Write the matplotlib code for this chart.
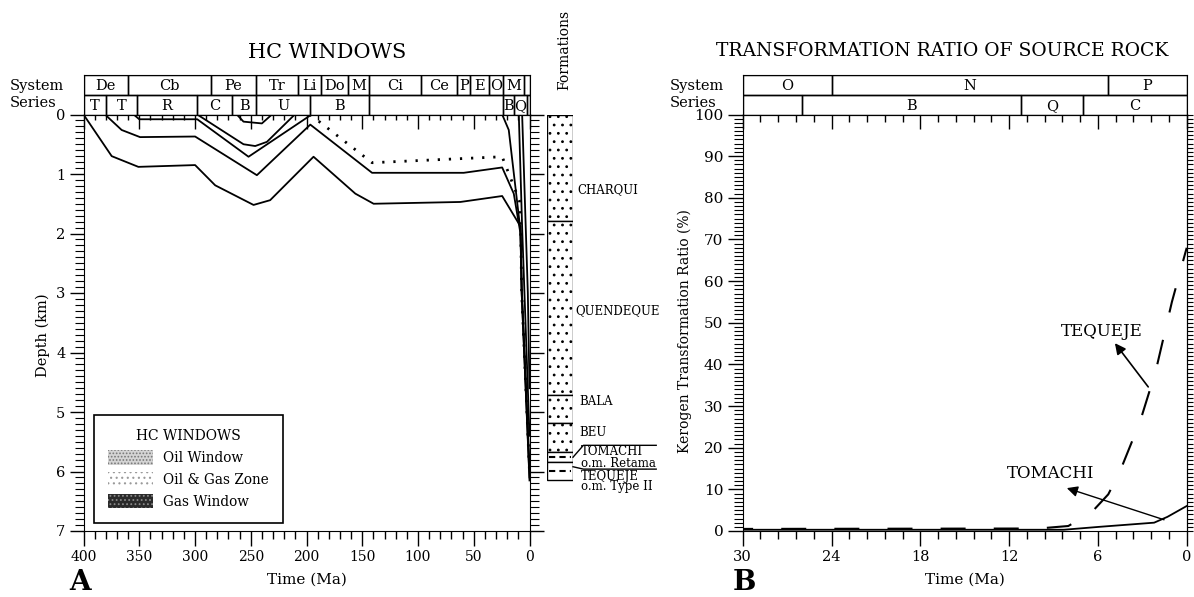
import matplotlib
matplotlib.use("Agg")
import matplotlib.pyplot as plt
from matplotlib.patches import Rectangle, Patch
from matplotlib.ticker import MultipleLocator

plt.rcParams['font.family'] = 'DejaVu Serif'
plt.rcParams['hatch.linewidth'] = 0.8

# ---------------- panel A : HC windows ----------------
system_a = [(400, 360, 'De'), (360, 286, 'Cb'), (286, 245, 'Pe'), (245, 208, 'Tr'), (208, 187, 'Li'),
            (187, 163, 'Do'), (163, 144, 'M'), (144, 97, 'Ci'), (97, 65, 'Ce'), (65, 53, 'P'),
            (53, 36, 'E'), (36, 24, 'O'), (24, 5, 'M'), (5, 0, '')]
series_a = [(400, 380, 'T'), (380, 352, 'T'), (352, 298, 'R'), (298, 267, 'C'), (267, 245, 'B'),
            (245, 197, 'U'), (197, 144, 'B'), (144, 24, ''), (24, 14, 'B'), (14, 2, 'Q'), (2, 0, '')]

# burial curves (time Ma, depth km)
c1_t = [400, 374.7, 350.8, 299.9, 281.9, 247.5, 232.6, 193.7, 156.2, 139.8, 62, 24.5, 8.1, 7.0, 0]
c1_d = [0, 0.70, 0.88, 0.85, 1.19, 1.52, 1.44, 0.71, 1.33, 1.50, 1.47, 1.37, 1.88, 3.0, 6.15]
c2_t = [380.7, 365.8, 349.3, 299.9, 244.5, 196.6, 141.2, 59, 24.5, 14.1, 8.1, 7.0, 0]
c2_d = [0, 0.26, 0.38, 0.37, 1.02, 0.17, 0.98, 0.98, 0.89, 1.33, 2.0, 3.0, 6.1]
c3_t = [355, 350, 298, 252, 197]
c3_d = [0, 0.08, 0.08, 0.71, 0.02]
c4_t = [298, 256.5, 246, 235.5, 211.6]
c4_d = [0, 0.50, 0.53, 0.46, 0.02]
c5_t = [262.5, 256.5, 240, 231]
c5_d = [0, 0.12, 0.15, 0]
dot_t = [197, 192, 141.2, 24.5, 9.0, 7.8, 7.0, 0]
dot_d = [0, 0.07, 0.81, 0.71, 1.45, 2.05, 3.0, 6.0]
y1_t = [24.5, 18.6, 8.1, 7.0, 0]
y1_d = [0, 0.26, 1.95, 2.9, 5.9]
y2_t = [9.6, 6.6, 0]
y2_d = [0, 1.9, 5.4]
y3_t = [6.6, 1.5, 0]
y3_d = [0, 3.0, 4.6]

formations = ['CHARQUI', 'QUENDEQUE', 'BALA', 'BEU', 'TOMACHI', 'TEQUEJE']
form_top = [0, 1.79, 4.71, 5.18, 5.67, 5.84]
form_base = [1.79, 4.71, 5.18, 5.67, 5.84, 6.15]
form_lith = ['sand', 'sand', 'sand', 'sand', 'shale', 'shale']

legend_labels = ['Oil Window', 'Oil & Gas Zone', 'Gas Window']

# ---------------- panel B : transformation ratio ----------------
system_b = [(30, 24, 'O'), (24, 5.3, 'N'), (5.3, 0, 'P')]
series_b = [(30, 26, ''), (26, 11.2, 'B'), (11.2, 7, 'Q'), (7, 0, 'C')]
tomachi_t = [30, 8.3, 5.9, 2.2, 1.3, 0]
tomachi_r = [0.3, 0.3, 1.0, 2.0, 3.4, 6.0]
tequeje_t = [30, 10, 8, 6.45, 5.3, 4.5, 3.15, 2.1, 1.0, 0]
tequeje_r = [0.5, 0.6, 1.2, 4.4, 8.8, 14.4, 26.3, 38.3, 55, 68]

W, H = 1194, 597
fig = plt.figure(figsize=(W / 100, H / 100), dpi=100)

ax_bot = (H - 531) / H
ax_h = (531 - 114.5) / H
hd_h = 39 / H


def draw_header(hax, rows, xlim):
    hax.set_xlim(*xlim)
    hax.set_ylim(0, 2)
    hax.set_xticks([])
    hax.set_yticks([])
    for level, row in zip((1, 0), rows):
        for start, end, name in row:
            hax.add_patch(Rectangle((end, level), start - end, 1, fill=False, lw=1.0, ec='black'))
            if name:
                hax.text((start + end) / 2, level + 0.45, name, ha='center', va='center', fontsize=10.5)
    hax.text(-0.165, 0.72, 'System', transform=hax.transAxes, ha='left', va='center', fontsize=10.5)
    hax.text(-0.165, 0.30, 'Series', transform=hax.transAxes, ha='left', va='center', fontsize=10.5)


# ---- A ----
axA = fig.add_axes([83.5 / W, ax_bot, 446 / W, ax_h])
hA = fig.add_axes([83.5 / W, ax_bot + ax_h, 446 / W, hd_h])
draw_header(hA, [system_a, series_a], (400, 0))

for t, d in [(c1_t, c1_d), (c2_t, c2_d), (c3_t, c3_d), (c4_t, c4_d), (c5_t, c5_d),
             (y1_t, y1_d), (y2_t, y2_d), (y3_t, y3_d)]:
    axA.plot(t, d, color='black', lw=1.3)
axA.plot(dot_t, dot_d, color='black', lw=2.0, linestyle=(0, (0.8, 3.2)))

axA.set_xlim(400, 0)
axA.set_ylim(7, 0)
axA.xaxis.set_major_locator(MultipleLocator(50))
axA.xaxis.set_minor_locator(MultipleLocator(10))
axA.yaxis.set_major_locator(MultipleLocator(1))
axA.yaxis.set_minor_locator(MultipleLocator(0.1))
axA.tick_params(axis='x', which='major', direction='out', length=11, width=1, labelsize=10, pad=3)
axA.tick_params(axis='x', which='minor', direction='out', length=6, width=1)
axA.tick_params(axis='y', which='major', direction='out', length=10, width=1, labelsize=10.5, pad=3,
                right=True)
axA.tick_params(axis='y', which='minor', direction='out', length=6.5, width=0.8, right=True)
secA = axA.secondary_xaxis('top')
secA.xaxis.set_major_locator(MultipleLocator(50))
secA.xaxis.set_minor_locator(MultipleLocator(10))
secA.tick_params(which='major', direction='in', length=11, width=1, labeltop=False)
secA.tick_params(which='minor', direction='in', length=4, width=1)
axA.set_ylabel('Depth (km)', fontsize=10.5)
axA.yaxis.set_label_coords(-0.076, 0.47)
axA.set_xlabel('Time (Ma)', fontsize=11)
axA.xaxis.set_label_coords(0.5, -0.10)

handles = [Patch(facecolor='#d4d4d4', edgecolor='#777777', hatch='.....', lw=0),
           Patch(facecolor='white', edgecolor='#9a9a9a', hatch='...', lw=0),
           Patch(facecolor='#2a2a2a', edgecolor='#8a8a8a', hatch='....', lw=0)]
leg = axA.legend(handles, legend_labels, title='HC WINDOWS', loc='lower left',
                 bbox_to_anchor=(0.0229, 0.0195), borderaxespad=0, fontsize=9.8,
                 title_fontsize=10, handlelength=3.3, handleheight=1.3, handletextpad=0.75,
                 labelspacing=0.5, borderpad=1.05, fancybox=False, edgecolor='black',
                 framealpha=1)
leg.get_frame().set_linewidth(1.2)

# formations column
fax = fig.add_axes([547 / W, ax_bot, 26 / W, ax_h])
fax.set_xlim(0, 1)
fax.set_ylim(7, 0)
fax.axis('off')
for name, top, base, lith in zip(formations, form_top, form_base, form_lith):
    fax.add_patch(Rectangle((0, top), 1, base - top, facecolor='white', edgecolor='black',
                            hatch='..' if lith == 'sand' else None, lw=1))
    if lith == 'shale':
        fax.plot([0.08, 0.92], [(top + base) / 2] * 2, color='black', lw=1.5,
                 linestyle=(0, (3, 2)))
label_depth = [1.27, 3.29, 4.83, 5.35, 5.67, 6.08]
label_x = [1.15, 1.08, 1.25, 1.25, 1.3, 1.3]
for name, y, x in zip(formations, label_depth, label_x):
    fax.text(x, y, name, ha='left', va='center', fontsize=8.5, clip_on=False)
fax.text(1.3, 5.86, 'o.m. Retama', ha='left', va='center', fontsize=8.5, clip_on=False)
fax.text(1.3, 6.26, 'o.m. Type II', ha='left', va='center', fontsize=8.5, clip_on=False)
fax.plot([1.0, 1.4, 4.2], [5.76, 5.56, 5.56], color='black', lw=1, clip_on=False)
fax.plot([1.0, 1.4, 4.2], [5.92, 5.96, 5.96], color='black', lw=1, clip_on=False)
fig.text(564 / W, 1 - 50 / H, 'Formations', rotation=90, ha='center', va='center', fontsize=10)

fig.text(327 / W, 1 - 53 / H, 'HC WINDOWS', ha='center', va='center', fontsize=15)
fig.text(69 / W, 0.002, 'A', ha='left', va='bottom', fontsize=20, fontweight='bold')

# ---- B ----
axB = fig.add_axes([742.7 / W, ax_bot, 444 / W, ax_h])
hB = fig.add_axes([742.7 / W, ax_bot + ax_h, 444 / W, hd_h])
draw_header(hB, [system_b, series_b], (30, 0))

axB.plot(tomachi_t, tomachi_r, color='black', lw=1.3)
axB.plot(tequeje_t, tequeje_r, color='black', lw=1.5, linestyle=(7, (12, 13.5)))
axB.set_xlim(30, 0)
axB.set_ylim(0, 100)
axB.xaxis.set_major_locator(MultipleLocator(6))
axB.xaxis.set_minor_locator(MultipleLocator(1.2))
axB.yaxis.set_major_locator(MultipleLocator(10))
axB.yaxis.set_minor_locator(MultipleLocator(1))
axB.tick_params(axis='x', which='major', direction='out', length=11, width=1, labelsize=10.5, pad=3)
axB.tick_params(axis='x', which='minor', direction='out', length=6, width=1)
axB.tick_params(axis='y', which='major', direction='out', length=11, width=1, labelsize=11, pad=3)
axB.tick_params(axis='y', which='minor', direction='out', length=6.5, width=0.8)
secB = axB.secondary_xaxis('top')
secB.xaxis.set_major_locator(MultipleLocator(6))
secB.xaxis.set_minor_locator(MultipleLocator(1.2))
secB.tick_params(which='major', direction='in', length=11, width=1, labeltop=False)
secB.tick_params(which='minor', direction='in', length=6, width=1)
secR = axB.secondary_yaxis('right')
secR.yaxis.set_major_locator(MultipleLocator(10))
secR.yaxis.set_minor_locator(MultipleLocator(1))
secR.tick_params(which='both', direction='out', length=4.5, width=0.8, labelright=False)
axB.set_ylabel('Kerogen Transformation Ratio (%)', fontsize=10)
axB.yaxis.set_label_coords(-0.114, 0.48)
axB.set_xlabel('Time (Ma)', fontsize=11)
axB.xaxis.set_label_coords(0.5, -0.10)

axB.text(5.72, 48, 'TEQUEJE', ha='center', va='center', fontsize=12)
axB.annotate('', xy=(4.85, 45.1), xytext=(2.6, 34.6),
             arrowprops=dict(arrowstyle='-|>', color='black', lw=1.2, mutation_scale=16,
                             shrinkA=0, shrinkB=0))
axB.text(9.17, 13.7, 'TOMACHI', ha='center', va='center', fontsize=12)
axB.annotate('', xy=(8.1, 10.3), xytext=(1.53, 2.7),
             arrowprops=dict(arrowstyle='-|>', color='black', lw=1.0, mutation_scale=16,
                             shrinkA=0, shrinkB=0))

fig.text(942 / W, 1 - 51 / H, 'TRANSFORMATION RATIO OF SOURCE ROCK', ha='center', va='center',
         fontsize=13.5)
fig.text(733 / W, 0.002, 'B', ha='left', va='bottom', fontsize=20, fontweight='bold')

fig.savefig('out.png', dpi=100)
